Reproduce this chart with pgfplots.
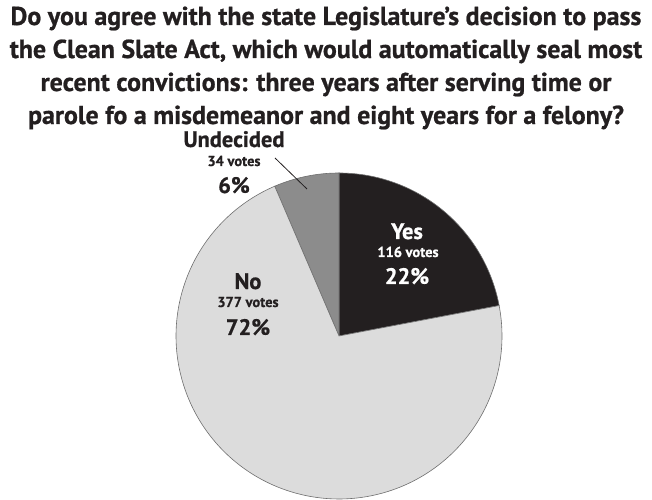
\documentclass[border=0pt]{standalone}
\usepackage{pgfplots}
\usepackage{pgfplotstable}
\pgfplotsset{compat=1.18}
\usepackage{fontspec}
\setmainfont{PT Sans}[BoldFeatures={FakeBold=0.8}]
\definecolor{ink}{HTML}{231F20}
\definecolor{yescol}{HTML}{231F20}
\definecolor{undcol}{HTML}{8C8C8C}
\definecolor{nocol}{HTML}{DCDCDC}
\definecolor{edgecol}{HTML}{6E6E6E}

\pgfplotstableread{
label votes
Yes 116
No 377
Undecided 34
}\pietable
\pgfplotstablegetelem{0}{votes}\of\pietable \edef\vYes{\pgfplotsretval}
\pgfplotstablegetelem{1}{votes}\of\pietable \edef\vNo{\pgfplotsretval}
\pgfplotstablegetelem{2}{votes}\of\pietable \edef\vUnd{\pgfplotsretval}
\pgfmathsetmacro\vTot{\vYes+\vNo+\vUnd}
% clockwise from the top: Yes, No, Undecided
\pgfmathsetmacro\aA{90-(\vYes/\vTot)*360}          % Yes: aA .. 90
\pgfmathsetmacro\aB{90+(\vUnd/\vTot)*360}          % Undecided: 90 .. aB
\pgfmathsetmacro\aC{\aA+360}                       % No: aB .. aC

\begin{document}
\begin{tikzpicture}
\begin{axis}[
  scale only axis, width=652bp, height=500bp,
  xmin=0, xmax=652, ymin=0, ymax=500,
  hide axis, clip=false,
]
\path (axis cs:0,0) rectangle (axis cs:652,500);
\def\cx{339}\def\cy{164}\def\R{163}
\addplot[fill=yescol, draw=edgecol, line width=0.6pt, domain=\aA:90, samples=80, variable=\t]
  ({\cx+\R*cos(\t)},{\cy+\R*sin(\t)}) -- (axis cs:\cx,\cy) -- cycle;
\addplot[fill=undcol, draw=edgecol, line width=0.6pt, domain=90:\aB, samples=30, variable=\t]
  ({\cx+\R*cos(\t)},{\cy+\R*sin(\t)}) -- (axis cs:\cx,\cy) -- cycle;
\addplot[fill=nocol, draw=edgecol, line width=0.6pt, domain=\aB:\aC, samples=200, variable=\t]
  ({\cx+\R*cos(\t)},{\cy+\R*sin(\t)}) -- (axis cs:\cx,\cy) -- cycle;

% title
\tikzset{ttl/.style={anchor=base, text=ink, inner sep=0pt, font=\fontsize{26}{33}\selectfont\bfseries},
  big/.style={anchor=base, inner sep=0pt, font=\fontsize{22.5}{26}\selectfont\bfseries},
  small/.style={anchor=base, inner sep=0pt, font=\fontsize{14.5}{17}\selectfont\bfseries}}
\node[ttl] at (axis cs:326,475) {Do you agree with the state Legislature’s decision to pass};
\node[ttl] at (axis cs:326,442) {the Clean Slate Act, which would automatically seal most};
\node[ttl] at (axis cs:326,409) {recent convictions: three years after serving time or};
\node[ttl] at (axis cs:326,376) {parole fo a misdemeanor and eight years for a felony?};

% Undecided
\node[big, text=ink] at (axis cs:234,353) {Undecided};
\node[small, text=ink] at (axis cs:234,334) {34 votes};
\node[big, text=ink] at (axis cs:234,307) {6\%};
\draw[ink, line width=0.8pt] (axis cs:275,342) -- (axis cs:307,311);

% Yes
\node[big, text=white] at (axis cs:407,261) {Yes};
\node[small, text=white] at (axis cs:408,243) {116 votes};
\node[big, text=white] at (axis cs:407,216) {22\%};

% No
\node[big, text=ink] at (axis cs:248,211) {No};
\node[small, text=ink] at (axis cs:248,193) {377 votes};
\node[big, text=ink] at (axis cs:248,165) {72\%};
\end{axis}
\end{tikzpicture}
\end{document}
